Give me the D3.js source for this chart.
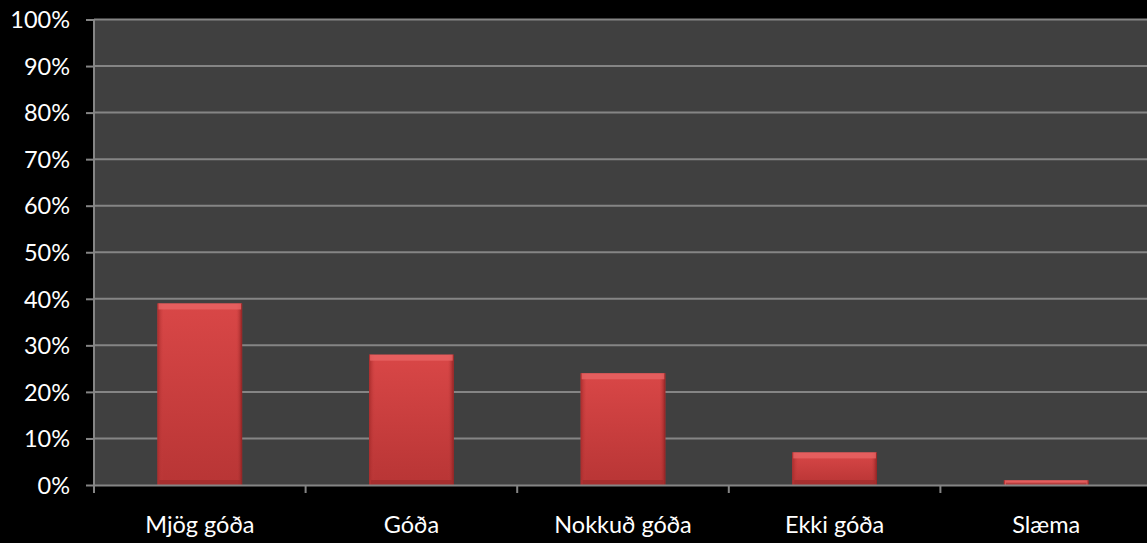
<!DOCTYPE html>
<html>
<head>
<meta charset="utf-8">
<script src="https://cdn.jsdelivr.net/npm/d3@7"></script>
<style>
	body { margin: 0; background: #000; overflow: hidden; }
	text { font-family: Lato, "Open Sans", sans-serif; fill: #fff; }
</style>
</head>
<body>
<svg id="chart" width="1147" height="543"></svg>
<script>
// Chart data
var categories = ["Mjög góða", "Góða", "Nokkuð góða", "Ekki góða", "Slæma"];
var values = [0.39, 0.28, 0.24, 0.07, 0.01];
var yTicks = [0, 0.1, 0.2, 0.3, 0.4, 0.5, 0.6, 0.7, 0.8, 0.9, 1];

// "top" is taken by window.top, so use plot* names
var plotLeft = 94, plotRight = 1152, plotTop = 19.5, plotBottom = 485;
var svg = d3.select("#chart");

var x = d3.scaleBand().domain(categories).range([plotLeft, plotRight]).paddingInner(0.6).paddingOuter(0.3);
var xCat = d3.scaleBand().domain(categories).range([plotLeft, plotRight]);
var y = d3.scaleLinear().domain([0, 1]).range([plotBottom, plotTop]);

// defs for bar shading
var defs = svg.append("defs");
var g1 = defs.append("linearGradient").attr("id", "barFill").attr("x1", 0).attr("y1", 0).attr("x2", 0).attr("y2", 1);
g1.append("stop").attr("offset", "0%").attr("stop-color", "#d94747");
g1.append("stop").attr("offset", "100%").attr("stop-color", "#b83535");
var g2 = defs.append("linearGradient").attr("id", "sideL").attr("x1", 0).attr("y1", 0).attr("x2", 1).attr("y2", 0);
g2.append("stop").attr("offset", "0%").attr("stop-color", "#a82c2c");
g2.append("stop").attr("offset", "100%").attr("stop-color", "#c63e3e").attr("stop-opacity", 0);
var g3 = defs.append("linearGradient").attr("id", "sideR").attr("x1", 1).attr("y1", 0).attr("x2", 0).attr("y2", 0);
g3.append("stop").attr("offset", "0%").attr("stop-color", "#8e2222");
g3.append("stop").attr("offset", "100%").attr("stop-color", "#c63e3e").attr("stop-opacity", 0);

// plot background
svg.append("rect")
	.attr("x", plotLeft).attr("y", plotTop)
	.attr("width", plotRight - plotLeft).attr("height", plotBottom - plotTop)
	.attr("fill", "#404040");

// gridlines
svg.append("g").selectAll("line").data(yTicks.slice(1)).enter().append("line")
	.attr("x1", plotLeft).attr("x2", plotRight)
	.attr("y1", function(d) { return y(d); }).attr("y2", function(d) { return y(d); })
	.attr("stroke", "#858585").attr("stroke-width", 2);

// bars
var bars = svg.append("g").selectAll("g").data(values).enter().append("g");
bars.append("rect")
	.attr("x", function(d, i) { return x(categories[i]); })
	.attr("y", function(d) { return y(d); })
	.attr("width", x.bandwidth())
	.attr("height", function(d) { return plotBottom - y(d); })
	.attr("fill", "url(#barFill)");
bars.append("rect")
	.attr("x", function(d, i) { return x(categories[i]); })
	.attr("y", function(d) { return y(d); })
	.attr("width", 6)
	.attr("height", function(d) { return plotBottom - y(d); })
	.attr("fill", "url(#sideL)");
bars.append("rect")
	.attr("x", function(d, i) { return x(categories[i]) + x.bandwidth() - 6; })
	.attr("y", function(d) { return y(d); })
	.attr("width", 6)
	.attr("height", function(d) { return plotBottom - y(d); })
	.attr("fill", "url(#sideR)");
// top bevel
bars.append("rect")
	.attr("x", function(d, i) { return x(categories[i]) + 1; })
	.attr("y", function(d) { return y(d); })
	.attr("width", x.bandwidth() - 2)
	.attr("height", function(d) { return Math.min(6, plotBottom - y(d)); })
	.attr("fill", "#e96464").attr("opacity", 0.8);
// bottom shade
bars.append("rect")
	.attr("x", function(d, i) { return x(categories[i]) + 2; })
	.attr("y", function(d) { return plotBottom - Math.min(5, (plotBottom - y(d)) / 2); })
	.attr("width", x.bandwidth() - 4)
	.attr("height", function(d) { return Math.min(5, (plotBottom - y(d)) / 2); })
	.attr("fill", "#9a2a2a").attr("opacity", 0.6);

// y axis
var yAxis = d3.axisLeft(y).tickValues(yTicks).tickSize(8).tickFormat(d3.format(".0%"));
var ya = svg.append("g").attr("transform", "translate(" + plotLeft + ",0)").call(yAxis);
ya.select(".domain").attr("stroke", "#858585").attr("stroke-width", 2).attr("d", "M0," + plotTop + "V" + plotBottom);
ya.selectAll(".tick line").attr("stroke", "#858585").attr("stroke-width", 2);
ya.selectAll(".tick text").attr("x", -24).attr("dy", "0.35em").style("font-size", "23.5px").attr("fill", "#fff");

// x axis
var xAxis = d3.axisBottom(xCat).tickSize(0).tickSizeOuter(0);
var xa = svg.append("g").attr("transform", "translate(0," + plotBottom + ")").call(xAxis);
xa.select(".domain").attr("stroke", "#858585").attr("stroke-width", 2);
xa.selectAll(".tick text").attr("y", 40).attr("dy", "0.35em").style("font-size", "23.5px").attr("fill", "#fff");
// category boundary ticks
xa.append("g").selectAll("line").data(categories).enter().append("line")
	.attr("x1", function(d) { return xCat(d); }).attr("x2", function(d) { return xCat(d); })
	.attr("y1", 0).attr("y2", 8)
	.attr("stroke", "#858585").attr("stroke-width", 2);
</script>
</body>
</html>
